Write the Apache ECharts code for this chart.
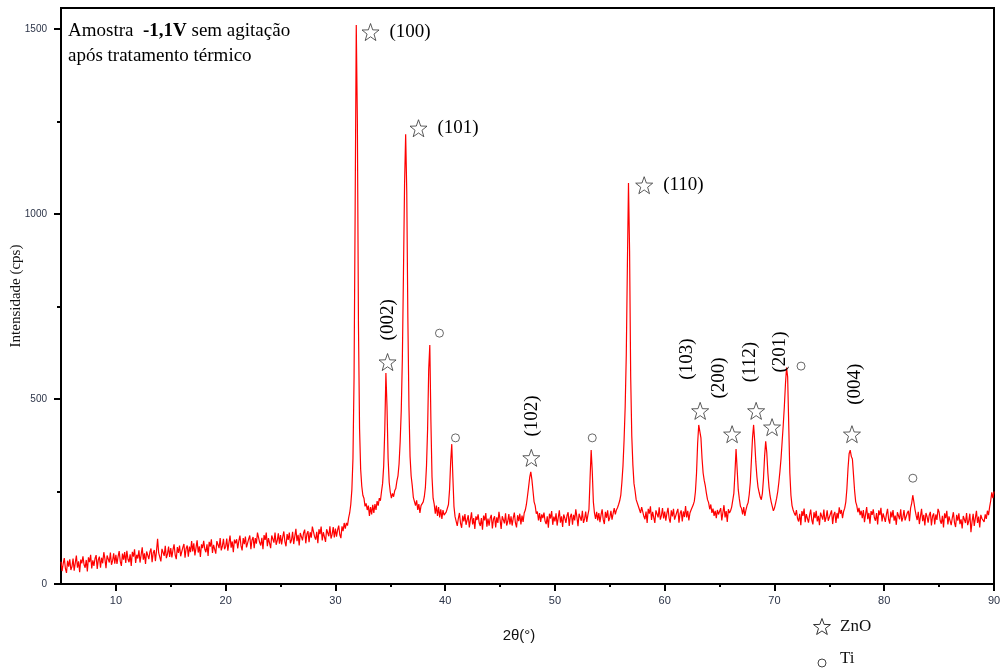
<!DOCTYPE html>
<html>
<head>
<meta charset="utf-8">
<script src="https://cdn.jsdelivr.net/npm/echarts@6/dist/echarts.min.js"></script>
<style>
html,body{margin:0;padding:0;background:#fff;}
#chart{width:1002px;height:671px;}
</style>
</head>
<body>
<div id="chart"></div>
<script>
// ---- Data ----
const angleStart = 5;      // 2θ of first sample (°)
const angleStep = 0.1;     // sampling step (°)

// intensity (cps), 0.1° steps
const counts05to15 = [
  60,35,55,70,42,30,63,47,67,38,
  47,69,36,57,77,44,61,32,66,56,
  75,52,44,65,34,72,59,79,42,64,
  49,69,78,41,66,74,44,71,56,86,
  68,43,77,80,58,85,52,63,83,55,
  79,54,74,89,61,49,82,66,86,57,
  90,67,59,80,49,87,74,94,57,79,
  69,91,58,79,99,66,83,54,88,78,
  67,87,96,59,84,92,62,89,122,84,
  86,61,95,98,76,103,70,81,101,73
];
const counts15to25 = [
  97,72,92,107,79,67,100,84,104,75,
  79,99,108,71,96,104,74,101,86,116,
  88,110,77,98,118,85,102,73,107,97,
  117,94,86,107,76,114,101,121,84,106,
  107,82,116,119,97,124,91,102,122,94,
  101,123,90,111,131,98,115,86,120,110,
  121,96,116,131,103,91,124,108,128,99,
  102,122,131,94,119,127,97,124,109,139,
  135,112,104,125,94,132,119,139,102,124,
  122,97,131,134,112,139,106,117,137,109
];
const counts25to35 = [
  132,107,127,142,114,102,135,119,139,110,
  119,141,108,129,149,116,133,104,138,128,
  118,138,147,110,135,143,113,140,125,155,
  151,128,120,141,110,148,135,155,118,140,
  139,114,148,151,129,156,123,134,154,126,
  150,128,146,158,133,124,156,143,165,150,
  165,158,178,192,215,255,340,560,1020,1511,
  1250,700,420,310,265,240,232,210,218,200,
  212,184,208,188,214,192,216,200,224,212,
  232,225,250,272,320,420,570,480,340,275
];
const counts35to45 = [
  248,232,245,236,252,258,278,292,325,385,
  470,610,840,1080,1216,1060,720,480,345,292,
  266,234,236,212,226,200,216,192,212,210,
  222,236,262,320,420,580,646,440,290,232,
  216,190,212,184,208,180,202,176,200,186,
  186,195,200,215,255,330,378,290,210,182,
  182,157,177,192,164,152,185,169,189,160,
  164,186,153,174,194,161,178,149,183,173,
  188,165,157,178,147,185,172,192,155,177,
  158,178,187,150,175,183,153,180,165,195
];
const counts45to55 = [
  174,149,183,186,164,191,158,169,189,161,
  183,158,178,193,165,153,186,170,190,161,
  185,168,192,200,215,238,262,288,303,282,
  252,222,212,190,196,172,192,168,188,178,
  193,170,162,183,152,190,177,197,160,182,
  169,191,158,179,199,166,183,154,188,178,
  165,185,194,157,182,190,160,187,172,202,
  181,156,190,193,171,198,165,176,196,168,
  186,202,285,362,305,222,192,176,195,172,
  192,167,187,202,174,162,195,179,199,170
];
const counts55to65 = [
  180,198,174,190,205,188,200,206,215,225,
  240,275,320,390,480,620,860,1084,900,560,
  400,322,272,252,228,224,210,206,192,208,
  206,183,175,196,165,203,190,210,173,195,
  190,165,199,202,180,207,174,185,205,177,
  196,171,191,206,178,166,199,183,203,174,
  174,194,203,166,191,199,169,196,181,211,
  180,198,172,192,200,204,214,224,250,300,
  380,430,435,395,340,300,280,265,245,228,
  220,202,215,192,204,184,198,178,200,188
];
const counts65to75 = [
  183,205,172,193,213,180,197,168,202,192,
  198,208,210,245,300,365,310,255,230,210,
  204,188,208,184,200,212,220,242,275,335,
  395,430,385,330,290,262,248,235,228,245,
  285,345,386,355,300,262,238,222,210,198,
  205,218,232,250,275,305,340,385,430,480,
  540,585,560,430,300,240,212,200,192,185,
  200,177,169,190,159,197,184,204,167,189,
  191,166,186,201,173,161,194,178,198,169,
  184,159,193,196,174,201,168,179,199,171
];
const counts75to85 = [
  170,190,199,162,187,195,165,192,177,207,
  190,200,178,196,205,222,258,312,352,362,
  345,338,295,252,222,212,194,206,186,198,
  178,200,167,188,208,175,192,163,197,187,
  202,179,171,192,161,199,186,206,169,191,
  193,168,188,203,175,163,196,180,200,171,
  185,160,194,197,175,202,169,180,200,172,
  176,192,198,170,205,218,240,222,202,186,
  173,195,162,183,203,170,187,158,192,182,
  166,186,195,158,183,191,161,188,173,203
];
const counts85to90 = [
  194,171,163,184,153,191,178,198,161,183,
  184,159,179,194,166,154,187,171,191,162,
  175,150,184,187,165,192,159,170,190,140,
  168,190,157,178,198,165,182,153,187,177,
  182,168,188,176,198,186,208,225,248,232,
  250
];

// ZnO reflections: star marker position [2θ, cps] and Miller index
const znoStarX = [33.2, 37.57, 58.13, 34.75, 47.85, 63.23, 66.14, 68.33, 69.78, 77.06];
const znoStarY = [1492, 1232, 1078, 600, 341, 468, 405, 468, 424, 405];
const znoIndex = ['(100)', '(101)', '(110)', '(002)', '(102)', '(103)', '(200)', '(112)', '(201)', '(004)'];
// vertical index labels (anchor in data units) for the lower reflections
const vertIndex = ['(002)', '(102)', '(103)', '(200)', '(112)', '(201)', '(004)'];
const vertIndexX = [34.75, 47.94, 62.05, 64.96, 67.78, 70.51, 77.33];
const vertIndexY = [714, 454, 608, 557, 600, 627, 540];
// horizontal index labels
const horizIndex = ['(100)', '(101)', '(110)'];

// Ti reflections: circle marker positions
const tiX = [39.48, 40.94, 53.40, 72.42, 82.61];
const tiY = [678, 395, 395, 589, 286];

// axis ticks
const xMajorTicks = [10, 20, 30, 40, 50, 60, 70, 80, 90];
const xMinorTicks = [15, 25, 35, 45, 55, 65, 75, 85];
const yMajorTicks = [0, 500, 1000, 1500];
const yMinorTicks = [250, 750, 1250];

// ---- Build ----
const counts = [].concat(counts05to15, counts15to25, counts25to35, counts35to45,
  counts45to55, counts55to65, counts65to75, counts75to85, counts85to90);
const pattern = counts.map((c, i) => [Math.round((angleStart + i * angleStep) * 10) / 10, c]);

const STAR_PTS = [[12,1],[14.9,8.9],[23.3,9.1],[16.6,14.2],[19.1,22.3],[12,17.6],[4.9,22.3],[7.4,14.2],[0.7,9.1],[9.1,8.9]];
const STAR = 'path://' + STAR_PTS.map((p, i) => (i ? 'L' : 'M') + p[0] + ',' + p[1]).join(' ') + ' Z';
const SERIF = '"Liberation Serif", "Times New Roman", serif';
const SANS = '"Liberation Sans", Arial, sans-serif';

const starData = znoStarX.map((x, i) => ({
  value: [x, znoStarY[i]],
  name: znoIndex[i],
  label: { show: horizIndex.indexOf(znoIndex[i]) >= 0 }
}));
const vertData = vertIndex.map((n, i) => ({ value: [vertIndexX[i], vertIndexY[i]], name: n }));
const tiData = tiX.map((x, i) => [x, tiY[i]]);

// legend glyph (star outline) placed in the key below the axis
const keyStar = STAR_PTS.map(p => [813.5 + (p[0] - 0.7) * 0.75, 618.5 + (p[1] - 1) * 0.75]);

const chart = echarts.init(document.getElementById('chart'), null, { renderer: 'canvas' });
const labelColor = '#2b3347';
const plain = v => String(v);

chart.setOption({
  animation: false,
  backgroundColor: '#fff',
  grid: { left: 61, right: 8, top: 8, bottom: 87, outerBoundsMode: 'none', containLabel: false,
    show: true, borderColor: '#000', borderWidth: 2, backgroundColor: 'transparent' },
  xAxis: [{
    type: 'value', min: 5, max: 90,
    name: '2θ(°)', nameLocation: 'middle', nameGap: 44, nameMoveOverlap: false,
    nameTextStyle: { fontFamily: SANS, fontSize: 15, color: '#111', padding: [0, 17, 0, 0] },
    axisLine: { show: true, lineStyle: { color: '#000', width: 2 } },
    axisTick: { show: true, length: 7, customValues: xMajorTicks, lineStyle: { color: '#000', width: 2 } },
    axisLabel: { customValues: xMajorTicks, formatter: plain, margin: 11, fontFamily: SANS, fontSize: 11, color: labelColor },
    splitLine: { show: false }
  }, {
    type: 'value', min: 5, max: 90, position: 'bottom',
    axisLine: { show: false },
    axisTick: { show: true, length: 3, customValues: xMinorTicks, lineStyle: { color: '#000', width: 2 } },
    axisLabel: { show: false },
    splitLine: { show: false }
  }],
  yAxis: [{
    type: 'value', min: 0, max: 1557,
    name: 'Intensidade (cps)', nameLocation: 'middle', nameGap: 37, nameRotate: 90, nameMoveOverlap: false,
    nameTextStyle: { fontFamily: SERIF, fontSize: 15, color: '#111' },
    axisLine: { show: true, lineStyle: { color: '#000', width: 2 } },
    axisTick: { show: true, length: 7, customValues: yMajorTicks, lineStyle: { color: '#000', width: 2 } },
    axisLabel: { customValues: yMajorTicks, formatter: plain, margin: 14, fontFamily: SANS, fontSize: 10, color: labelColor },
    splitLine: { show: false }
  }, {
    type: 'value', min: 0, max: 1557, position: 'left',
    axisLine: { show: false },
    axisTick: { show: true, length: 4, customValues: yMinorTicks, lineStyle: { color: '#000', width: 2 } },
    axisLabel: { show: false },
    splitLine: { show: false }
  }],
  series: [{
    type: 'line', name: 'XRD', data: pattern, xAxisIndex: 0, yAxisIndex: 0,
    showSymbol: false, symbol: 'none', silent: true,
    lineStyle: { color: '#ff0000', width: 1.2 },
    z: 2
  }, {
    type: 'scatter', name: 'ZnO', data: starData, symbol: STAR, symbolSize: 17, silent: true,
    itemStyle: { color: 'rgba(0,0,0,0)', borderColor: '#333', borderWidth: 1 },
    label: { show: false, position: 'right', distance: 10, formatter: p => p.name,
      fontFamily: SERIF, fontSize: 19, color: '#000', opacity: 1 },
    z: 3
  }, {
    type: 'scatter', name: 'idx', data: vertData, symbolSize: 1, silent: true,
    itemStyle: { color: 'rgba(0,0,0,0)' },
    label: { show: true, position: 'inside', rotate: 90, formatter: p => p.name,
      fontFamily: SERIF, fontSize: 19, color: '#000', opacity: 1 },
    z: 3
  }, {
    type: 'scatter', name: 'Ti', data: tiData, symbol: 'circle', symbolSize: 8, silent: true,
    itemStyle: { color: 'rgba(0,0,0,0)', borderColor: '#444', borderWidth: 1 },
    z: 3
  }],
  graphic: [{
    type: 'text', left: 68, top: 22,
    style: {
      text: '{n|Amostra  }{b|-1,1V}{n| sem agitação}\n{n|após tratamento térmico}',
      rich: {
        n: { fontFamily: SERIF, fontSize: 19, color: '#111', lineHeight: 25 },
        b: { fontFamily: SERIF, fontSize: 19, fontWeight: 'bold', color: '#111', lineHeight: 25 }
      }
    }
  }, {
    type: 'polygon', shape: { points: keyStar },
    style: { fill: 'none', stroke: '#333', lineWidth: 1 }
  }, {
    type: 'text', left: 840, top: 618,
    style: { text: 'ZnO', font: '17px ' + SERIF, fill: '#111' }
  }, {
    type: 'circle', shape: { cx: 822, cy: 663, r: 4 },
    style: { fill: 'none', stroke: '#444', lineWidth: 1 }
  }, {
    type: 'text', left: 840, top: 650,
    style: { text: 'Ti', font: '17px ' + SERIF, fill: '#111' }
  }]
});
</script>
</body>
</html>
